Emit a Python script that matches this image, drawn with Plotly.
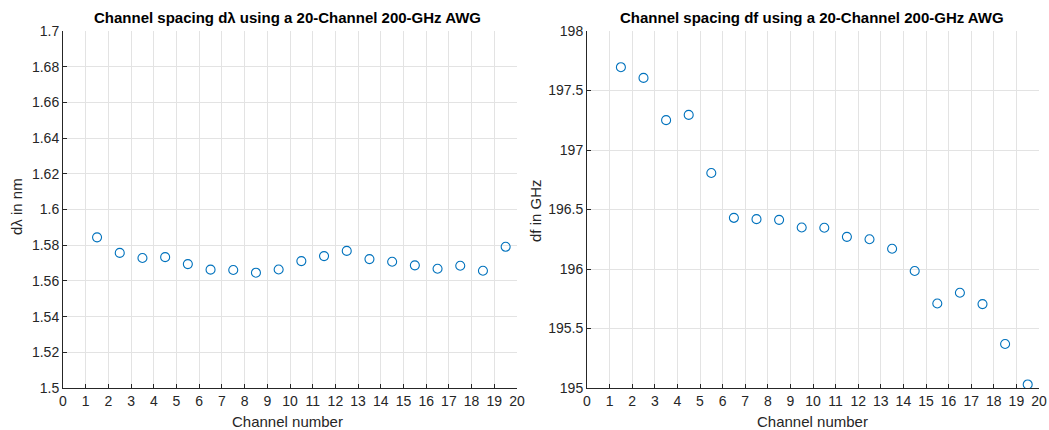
import plotly.graph_objects as go

channels = [1.5, 2.5, 3.5, 4.5, 5.5, 6.5, 7.5, 8.5, 9.5, 10.5, 11.5, 12.5, 13.5, 14.5, 15.5, 16.5, 17.5, 18.5, 19.5]
dlambda_nm = [1.5844, 1.5757, 1.5728, 1.5733, 1.5694, 1.5663, 1.5661, 1.5646, 1.5664, 1.5711,
              1.5739, 1.5768, 1.5722, 1.5707, 1.5687, 1.5668, 1.5685, 1.5657, 1.5791]
df_ghz = [197.696, 197.606, 197.251, 197.295, 196.807, 196.43, 196.419, 196.413, 196.349, 196.347,
          196.27, 196.25, 196.17, 195.983, 195.71, 195.80, 195.705, 195.37, 195.03]

x_ticks = list(range(0, 21))
left_yticks = [1.5 + 0.02 * i for i in range(11)]
left_ylabels = ["1.5", "1.52", "1.54", "1.56", "1.58", "1.6", "1.62", "1.64", "1.66", "1.68", "1.7"]
right_yticks = [195, 195.5, 196, 196.5, 197, 197.5, 198]
right_ylabels = ["195", "195.5", "196", "196.5", "197", "197.5", "198"]

W, H = 1049, 430
font = "Liberation Sans, Arial, sans-serif"
tick_color = "#262626"
blue = "#0072BD"

fig = go.Figure()
marker = dict(symbol="circle-open", size=9, color=blue, line=dict(width=1.1, color=blue))
fig.add_trace(go.Scatter(x=channels, y=dlambda_nm, mode="markers", marker=marker, xaxis="x", yaxis="y"))
fig.add_trace(go.Scatter(x=channels, y=df_ghz, mode="markers", marker=marker, xaxis="x2", yaxis="y2"))

ydom = [1 - 388 / H, 1 - 31 / H]
common_x = dict(range=[0, 20], tickvals=x_ticks, ticktext=[str(v) for v in x_ticks],
                showgrid=True, gridcolor="#e3e3e3", gridwidth=1, zeroline=False,
                showline=True, linecolor=tick_color, linewidth=1, automargin=False,
                ticks="inside", ticklen=4, tickcolor=tick_color,
                tickfont=dict(family=font, size=14, color=tick_color))
common_y = dict(showgrid=True, gridcolor="#e3e3e3", gridwidth=1, zeroline=False,
                showline=True, linecolor=tick_color, linewidth=1, automargin=False,
                ticks="inside", ticklen=4, tickcolor=tick_color,
                tickfont=dict(family=font, size=14, color=tick_color), domain=ydom)

fig.update_layout(
    width=W, height=H, margin=dict(l=0, r=0, t=0, b=0),
    paper_bgcolor="white", plot_bgcolor="white", showlegend=False,
    xaxis=dict(domain=[63 / W, 517 / W], anchor="y", **common_x),
    yaxis=dict(anchor="x", range=[1.5, 1.7], tickvals=left_yticks, ticktext=left_ylabels, **common_y),
    xaxis2=dict(domain=[587 / W, 1039 / W], anchor="y2", **common_x),
    yaxis2=dict(anchor="x2", range=[195, 198], tickvals=right_yticks, ticktext=right_ylabels, **common_y),
)

def ann(text, x, y, size=13, bold=False, angle=0):
    fig.add_annotation(text=f"<b>{text}</b>" if bold else text, x=x / W, y=1 - y / H,
                       xref="paper", yref="paper", showarrow=False, textangle=angle,
                       font=dict(family=font, size=size, color="black" if bold else tick_color),
                       xanchor="center", yanchor="middle")

ann("Channel spacing dλ using a 20-Channel 200-GHz AWG", 287, 17, size=15, bold=True)
ann("Channel spacing df using a 20-Channel 200-GHz AWG", 812, 17, size=15, bold=True)
ann("Channel number", 287, 421, size=15)
ann("Channel number", 812, 421, size=15)
ann("dλ in nm", 16, 207, size=15, angle=-90)
ann("df in GHz", 535, 211, size=15, angle=-90)

fig.write_html("out.html")
